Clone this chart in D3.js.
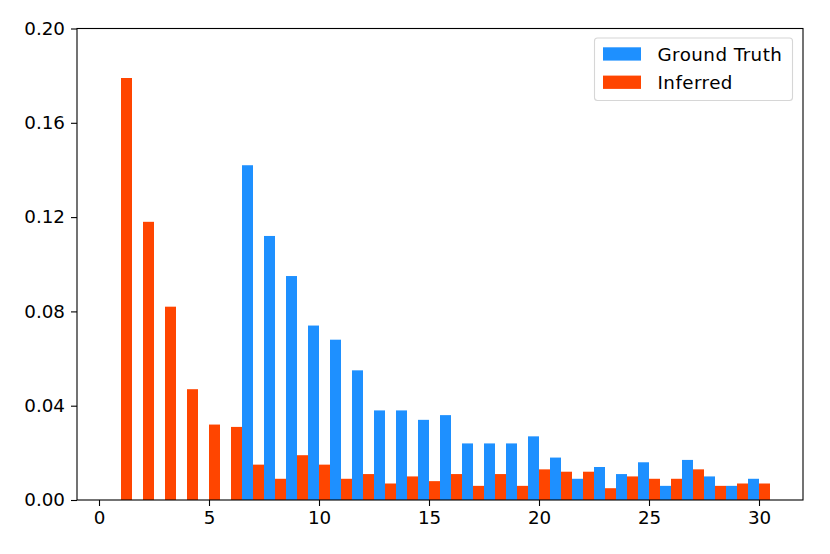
<!DOCTYPE html>
<html>
<head>
<meta charset="utf-8">
<script src="https://cdn.jsdelivr.net/npm/d3@7"></script>
<style>
  html, body { margin: 0; padding: 0; background: #fff; }
  svg { display: block; }
  text { font-family: "DejaVu Sans", sans-serif; }
</style>
</head>
<body>
<svg id="chart" width="830" height="554"></svg>
<script>
const bins = d3.range(1, 31);
const groundTruth = [0,0,0,0,0,0,0.142,0.112,0.095,0.074,0.068,0.055,0.038,0.038,0.034,0.036,0.024,0.024,0.024,0.027,0.018,0.009,0.014,0.011,0.016,0.006,0.017,0.010,0.006,0.009];
const inferred = [0.179,0.118,0.082,0.047,0.032,0.031,0.015,0.009,0.019,0.015,0.009,0.011,0.007,0.010,0.008,0.011,0.006,0.011,0.006,0.013,0.012,0.012,0.005,0.010,0.009,0.009,0.013,0.006,0.007,0.007];
const xTicks = [0, 5, 10, 15, 20, 25, 30];
const yTicks = [0, 0.04, 0.08, 0.12, 0.16, 0.20];
const seriesNames = ["Ground Truth", "Inferred"];
const colors = ["#1E90FF", "#FF4500"];
const barWidth = 0.5;

const svg = d3.select("#chart");
const L = 77, R = 803, T = 28.5, B = 500;
const x = d3.scaleLinear().domain([-1, 32]).range([L, R]);
const y = d3.scaleLinear().domain([0, 0.20]).range([B, T]);

// bars
const g = svg.append("g");
g.selectAll("rect.gt").data(bins.map((b, i) => ({b, v: groundTruth[i]})))
  .enter().append("rect")
  .attr("x", d => x(d.b - barWidth))
  .attr("width", d => x(d.b) - x(d.b - barWidth))
  .attr("y", d => y(d.v))
  .attr("height", d => y(0) - y(d.v))
  .attr("fill", colors[0]);
g.selectAll("rect.inf").data(bins.map((b, i) => ({b, v: inferred[i]})))
  .enter().append("rect")
  .attr("x", d => x(d.b))
  .attr("width", d => x(d.b + barWidth) - x(d.b))
  .attr("y", d => y(d.v))
  .attr("height", d => y(0) - y(d.v))
  .attr("fill", colors[1]);

// axes
const xAxis = d3.axisBottom(x).tickValues(xTicks).tickFormat(d3.format("d")).tickSize(6).tickPadding(5);
const yAxis = d3.axisLeft(y).tickValues(yTicks).tickFormat(d3.format(".2f")).tickSize(6).tickPadding(6);
const xa = svg.append("g").attr("transform", `translate(0,${B})`).call(xAxis);
const ya = svg.append("g").attr("transform", `translate(${L},0)`).call(yAxis);
[xa, ya].forEach(a => {
  a.select(".domain").remove();
  a.selectAll("line").attr("stroke", "#000").attr("stroke-width", 1.1);
  a.selectAll("text").attr("font-size", "18.3px").attr("fill", "#000").attr("font-family", "DejaVu Sans, sans-serif");
});

// frame
svg.append("rect").attr("x", L).attr("y", T).attr("width", R - L).attr("height", B - T)
  .attr("fill", "none").attr("stroke", "#000").attr("stroke-width", 1.1);

// legend
const lg = svg.append("g");
lg.append("rect").attr("x", 594.5).attr("y", 38).attr("width", 198).attr("height", 62.5)
  .attr("rx", 3).attr("fill", "#fff").attr("fill-opacity", 0.8).attr("stroke", "#d6d6d6").attr("stroke-width", 1.1);
seriesNames.forEach((s, i) => {
  lg.append("rect").attr("x", 603).attr("y", 47.3 + i * 28.3).attr("width", 38).attr("height", 13.3).attr("fill", colors[i]);
  lg.append("text").attr("x", 657.5).attr("y", 60.7 + i * 27.8).attr("font-size", "18.3px")
    .attr("letter-spacing", "0.45px").attr("fill", "#000").text(s);
});
</script>
</body>
</html>
